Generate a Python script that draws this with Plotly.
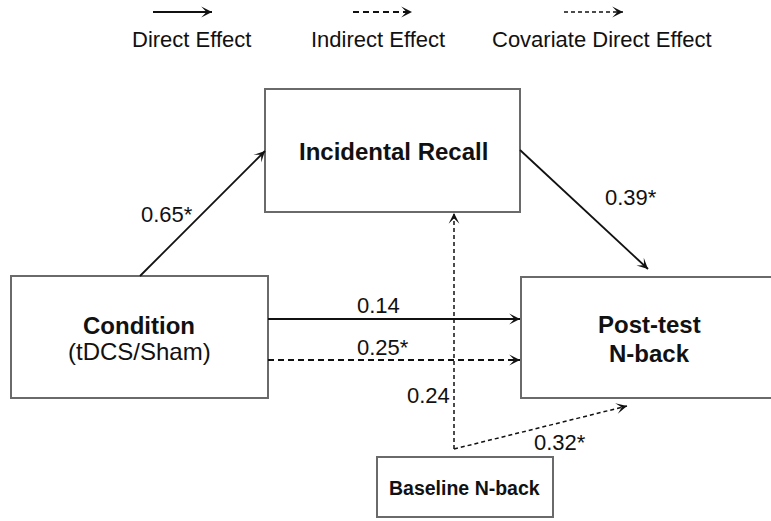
import math

import plotly.graph_objects as go

# --- model contents -------------------------------------------------------
node_names = ["Incidental Recall", "Condition", "Post-test N-back", "Baseline N-back"]
node_lines = [["Incidental Recall"], ["Condition", "(tDCS/Sham)"], ["Post-test", "N-back"], ["Baseline N-back"]]

path_from = ["Condition", "Incidental Recall", "Condition", "Condition", "Baseline N-back", "Baseline N-back"]
path_to = ["Incidental Recall", "Post-test N-back", "Post-test N-back", "Post-test N-back",
           "Incidental Recall", "Post-test N-back"]
path_kind = ["direct", "direct", "direct", "indirect", "covariate", "covariate"]
path_coef = ["0.65*", "0.39*", "0.14", "0.25*", "0.24", "0.32*"]

legend_kinds = ["direct", "indirect", "covariate"]
legend_labels = ["Direct Effect", "Indirect Effect", "Covariate Direct Effect"]

# --- layout of the diagram (canvas units = pixels) -------------------------
W, H = 771, 521
FONT = "Liberation Sans, Arial, sans-serif"
INK = "#111111"
BORDER = "#6a6a6a"

BOX = {
    "Incidental Recall": (265, 89, 520, 212),
    "Condition": (11, 276, 268, 398),
    "Post-test N-back": (521, 277, 774, 398),
    "Baseline N-back": (377, 457, 553, 517),
}
# text rows per box: (y centre, size, bold)
BOX_TEXT = {
    "Incidental Recall": [(151, 24, True)],
    "Condition": [(325, 24, True), (351, 24, False)],
    "Post-test N-back": [(324, 24, True), (353, 24, True)],
    "Baseline N-back": [(488, 19.5, True)],
}
BOX_TEXT_X = {"Incidental Recall": 393, "Condition": 139, "Post-test N-back": 649, "Baseline N-back": 464}

ROUTE = [
    [(140, 276), (265, 151)],
    [(520, 150), (648, 269)],
    [(268, 319), (520, 319)],
    [(268, 360), (520, 360)],
    [(454, 449), (454, 213)],
    [(454, 449), (627, 406)],
]
COEF_POS = [(167, 214), (631, 197), (378, 305), (383, 347), (428, 395), (560, 442)]

STYLE = {
    "direct": dict(dash="solid", width=1.8),
    "indirect": dict(dash="6px,4px", width=1.8),
    "covariate": dict(dash="4px,3px", width=1.5),
}
LEGEND_ARROW = [(153, 212), (353, 412), (564, 623)]
LEGEND_TEXT_X = [191, 378, 602]


def add_arrow(fig, pts, kind):
    st = STYLE[kind]
    xs = [p[0] for p in pts]
    ys = [p[1] for p in pts]
    fig.add_trace(go.Scatter(
        x=xs, y=ys, mode="lines",
        line=dict(color=INK, width=st["width"], dash=st["dash"]),
        hoverinfo="skip", showlegend=False,
    ))
    # arrowhead only: a very short annotation arrow ending at the tip
    (x0, y0), (x1, y1) = pts[-2], pts[-1]
    d = math.hypot(x1 - x0, y1 - y0)
    back = 7
    fig.add_annotation(
        x=x1, y=y1, ax=x1 - (x1 - x0) / d * back, ay=y1 - (y1 - y0) / d * back,
        xref="x", yref="y", axref="x", ayref="y", text="",
        showarrow=True, arrowhead=3, arrowsize=1, arrowwidth=1.8, arrowcolor=INK,
        standoff=0, startstandoff=0,
    )


fig = go.Figure()

for name, lines in zip(node_names, node_lines):
    x0, y0, x1, y1 = BOX[name]
    fig.add_shape(type="rect", x0=x0, y0=y0, x1=x1, y1=y1, xref="x", yref="y",
                  line=dict(color=BORDER, width=2), fillcolor="white", layer="below")
    for txt, (ty, size, bold) in zip(lines, BOX_TEXT[name]):
        fig.add_annotation(x=BOX_TEXT_X[name], y=ty, text=f"<b>{txt}</b>" if bold else txt,
                           showarrow=False, font=dict(family=FONT, size=size, color=INK))

for src, dst, kind, coef, route, pos in zip(path_from, path_to, path_kind, path_coef, ROUTE, COEF_POS):
    add_arrow(fig, route, kind)
    fig.add_annotation(x=pos[0], y=pos[1], text=coef, showarrow=False,
                       font=dict(family=FONT, size=22, color=INK))

for kind, label, (ax0, ax1), tx in zip(legend_kinds, legend_labels, LEGEND_ARROW, LEGEND_TEXT_X):
    add_arrow(fig, [(ax0, 12), (ax1, 12)], kind)
    fig.add_annotation(x=tx, y=39, text=label, showarrow=False,
                       font=dict(family=FONT, size=22, color=INK))

fig.update_layout(
    width=W, height=H,
    margin=dict(l=0, r=0, t=0, b=0),
    paper_bgcolor="white", plot_bgcolor="white",
    xaxis=dict(range=[0, W], visible=False, fixedrange=True),
    yaxis=dict(range=[H, 0], visible=False, fixedrange=True),
)

# the page body has a default margin; drop it so the canvas sits at 0,0
fig.write_html("out.html", config=dict(displayModeBar=False),
               post_script="document.body.style.margin='0';")
